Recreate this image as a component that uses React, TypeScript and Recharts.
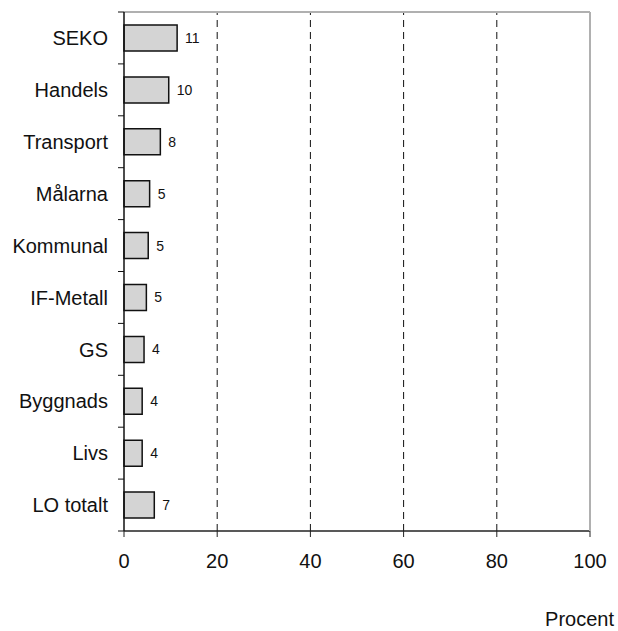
import React from 'react';
import {
  BarChart,
  Bar,
  XAxis,
  YAxis,
  ReferenceLine,
  LabelList,
} from 'recharts';

const categories = [
  'SEKO',
  'Handels',
  'Transport',
  'Målarna',
  'Kommunal',
  'IF-Metall',
  'GS',
  'Byggnads',
  'Livs',
  'LO totalt',
];
const values = [11.4, 9.6, 7.8, 5.5, 5.2, 4.8, 4.3, 3.9, 3.9, 6.5];
const valueLabels = ['11', '10', '8', '5', '5', '5', '4', '4', '4', '7'];
const xTicks = [0, 20, 40, 60, 80, 100];
const gridTicks = [20, 40, 60, 80];

const WIDTH = 618;
const HEIGHT = 631;
// top / right axes take 1px each, so the plot box stays at 124..590 x 12..531
const MARGIN = { top: 11, right: 27, left: 0, bottom: 29 };
const Y_AXIS_W = 124;
const X_AXIS_H = 71;
const PLOT_H = HEIGHT - MARGIN.top - 1 - MARGIN.bottom - X_AXIS_H;
const FONT = '"Liberation Sans", Arial, sans-serif';

const data = categories.map((name, i) => ({
  name,
  value: values[i],
  label: valueLabels[i],
}));

const CategoryTick = (props: any) => {
  const { y, payload, index } = props;
  const band = PLOT_H / categories.length;
  const axisX = MARGIN.left + Y_AXIS_W;
  return (
    <g>
      <text
        x={axisX - 16}
        y={y}
        dy="0.36em"
        textAnchor="end"
        fontSize={20}
        fontFamily={FONT}
        fill="#111"
      >
        {payload.value}
      </text>
      <line x1={axisX - 6} x2={axisX} y1={y - band / 2} y2={y - band / 2} stroke="#111" />
      {index === categories.length - 1 && (
        <line x1={axisX - 6} x2={axisX} y1={y + band / 2} y2={y + band / 2} stroke="#111" />
      )}
    </g>
  );
};

export default function App() {
  return (
    <div style={{ position: 'absolute', left: 0, top: 0, background: '#fff' }}>
      <BarChart width={WIDTH} height={HEIGHT} data={data} layout="vertical" margin={MARGIN}>
        <XAxis
          xAxisId="top"
          orientation="top"
          type="number"
          domain={[0, 100]}
          ticks={xTicks}
          height={1}
          tick={false}
          tickLine={false}
          axisLine={{ stroke: '#b0b0b0', strokeWidth: 2 }}
        />
        <XAxis
          type="number"
          domain={[0, 100]}
          ticks={xTicks}
          height={X_AXIS_H}
          tickSize={6}
          tickMargin={17}
          axisLine={{ stroke: '#222', strokeWidth: 1.5 }}
          tickLine={{ stroke: '#222' }}
          tick={{ fill: '#111', fontSize: 20, fontFamily: FONT }}
          label={{
            value: 'Procent',
            position: 'insideBottomRight',
            offset: -24,
            fill: '#111',
            fontSize: 20,
            fontFamily: FONT,
          }}
        />
        <YAxis
          yAxisId="right"
          orientation="right"
          type="category"
          dataKey="name"
          width={1}
          tick={false}
          tickLine={false}
          axisLine={{ stroke: '#b0b0b0', strokeWidth: 2 }}
        />
        <YAxis
          type="category"
          dataKey="name"
          width={Y_AXIS_W}
          tickLine={false}
          axisLine={{ stroke: '#111', strokeWidth: 1.5 }}
          tick={<CategoryTick />}
          interval={0}
        />
        {gridTicks.map(t => (
          <ReferenceLine key={t} x={t} stroke="#111" strokeDasharray="7 5" />
        ))}
        <Bar
          dataKey="value"
          fill="#d4d4d4"
          stroke="#111"
          strokeWidth={1.5}
          barSize={26}
          isAnimationActive={false}
        >
          <LabelList
            dataKey="label"
            position="right"
            offset={8}
            fill="#111"
            fontSize={14}
            fontFamily={FONT}
          />
        </Bar>
      </BarChart>
    </div>
  );
}
